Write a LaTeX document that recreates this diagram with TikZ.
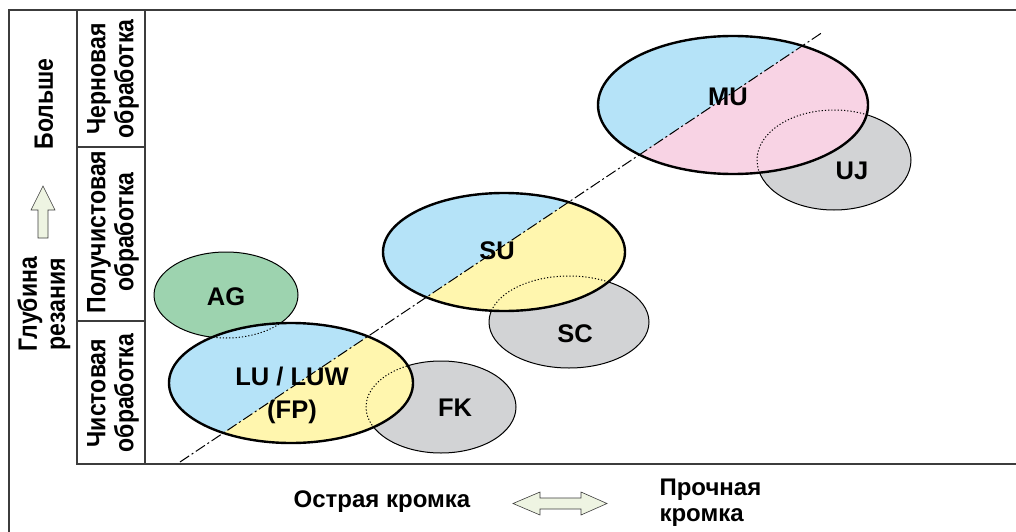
\documentclass[tikz,border=0pt]{standalone}
\usepackage{fontspec}
\setmainfont{Liberation Sans}
\newfontfamily\vfont[FakeStretch=0.87]{Liberation Sans}
\usetikzlibrary{shapes.geometric}
\definecolor{cutblue}{RGB}{181,227,248}
\definecolor{cutyellow}{RGB}{255,246,174}
\definecolor{cutpink}{RGB}{248,211,228}
\definecolor{cutgray}{RGB}{210,211,213}
\definecolor{cutgreen}{RGB}{157,211,175}
\definecolor{arrowgreen}{RGB}{238,244,226}
\definecolor{framegray}{RGB}{60,60,60}

\begin{document}
\begin{tikzpicture}[x=1pt,y=-1pt,
   frameline/.style={draw=framegray,line width=1.2pt},
   zone/.style={ellipse,inner sep=0pt,draw,line width=1pt,fill=#1},
   bigzone/.style={ellipse,inner sep=0pt,draw,line width=2.4pt,fill=cutblue,
      path picture={\fill[#1] (q1) -- (q2) -- (q3) -- (q4) -- cycle;}},
   hidden/.style={line width=1pt,dash pattern=on 1.2pt off 2pt},
   gradelbl/.style={font=\bfseries\fontsize{25.5}{33}\selectfont,align=center},
   axislbl/.style={font=\bfseries\fontsize{24}{26}\selectfont,align=left},
   colllbl/.style={font=\vfont\bfseries\fontsize{26.5}{28}\selectfont,align=center,rotate=90},
   fatarrow/.style={draw=framegray,line width=.6pt,fill=arrowgreen}]
   \useasboundingbox (0,0) rectangle (1016,532);

   \coordinate (d1) at (180,462);
   \coordinate (d2) at (823,32);
   \coordinate (q1) at (-100,649);
   \coordinate (q2) at (1100,-153);
   \coordinate (q3) at (1100,700);
   \coordinate (q4) at (-100,700);

   \draw[frameline] (9,532) -- (9,10) -- (1016,10);
   \draw[frameline] (77,10) -- (77,464) -- (1016,464);
   \draw[frameline] (145,10) -- (145,464);
   \draw[frameline] (77,147) -- (145,147);
   \draw[frameline] (77,321) -- (145,321);

   \node[zone=cutgray,minimum width=150pt,minimum height=92pt] (FK) at (441,407) {};
   \node[zone=cutgray,minimum width=160pt,minimum height=92pt] (SC) at (569,322) {};
   \node[zone=cutgray,minimum width=154pt,minimum height=100pt] (UJ) at (834,160) {};
   \node[zone=cutgreen,minimum width=144pt,minimum height=86pt] (AG) at (226,295) {};
   \node[bigzone=cutyellow,minimum width=244pt,minimum height=120pt] (LU) at (291,383) {};
   \node[bigzone=cutyellow,minimum width=242pt,minimum height=118pt] (SU) at (504,252) {};
   \node[bigzone=cutpink,minimum width=270pt,minimum height=138pt] (MU) at (733,105) {};

   \begin{scope}
      \clip (LU.center) ellipse [x radius=122pt,y radius=60pt];
      \draw[hidden] (FK.center) ellipse [x radius=75pt,y radius=46pt];
      \draw[hidden] (AG.center) ellipse [x radius=72pt,y radius=43pt];
   \end{scope}
   \begin{scope}
      \clip (SU.center) ellipse [x radius=121pt,y radius=59pt];
      \draw[hidden] (SC.center) ellipse [x radius=80pt,y radius=46pt];
   \end{scope}
   \begin{scope}
      \clip (MU.center) ellipse [x radius=135pt,y radius=69pt];
      \draw[hidden] (UJ.center) ellipse [x radius=77pt,y radius=50pt];
   \end{scope}

   \draw[line width=1pt,dash pattern=on 11pt off 3pt on 2pt off 3pt] (d1) -- (d2);

   \node[gradelbl] (tAG) at (226,297) {AG};
   \node[gradelbl] (tLU) at (292,395) {LU / LUW\\(FP)};
   \node[gradelbl] (tFK) at (455,408) {FK};
   \node[gradelbl] (tSU) at (497,251) {SU};
   \node[gradelbl] (tSC) at (575,334) {SC};
   \node[gradelbl] (tMU) at (728,97) {MU};
   \node[gradelbl] (tUJ) at (852,171) {UJ};

   \node[colllbl] (rough) at (113,79) {Черновая\\обработка};
   \node[colllbl] (semi) at (113,232) {Получистовая\\обработка};
   \node[colllbl] (fine) at (113,393) {Чистовая\\обработка};

   \node[colllbl] (more) at (44,104) {Больше};
   \node[colllbl] (depth) at (44,304) {Глубина\\резания};
   \draw[fatarrow] (43,186) -- (55,210) -- (48,210) -- (48,238) -- (38,238)
      -- (38,210) -- (31,210) -- cycle;

   \node[axislbl] (sharp) at (382,502) {Острая кромка};
   \node[axislbl,anchor=west] (strong) at (656,503) {Прочная\\кромка};
   \draw[fatarrow] (513,503.5) -- (540,492) -- (540,498) -- (581,498) -- (581,492)
      -- (607,503.5) -- (581,515) -- (581,509) -- (540,509) -- (540,515) -- cycle;
\end{tikzpicture}
\end{document}
